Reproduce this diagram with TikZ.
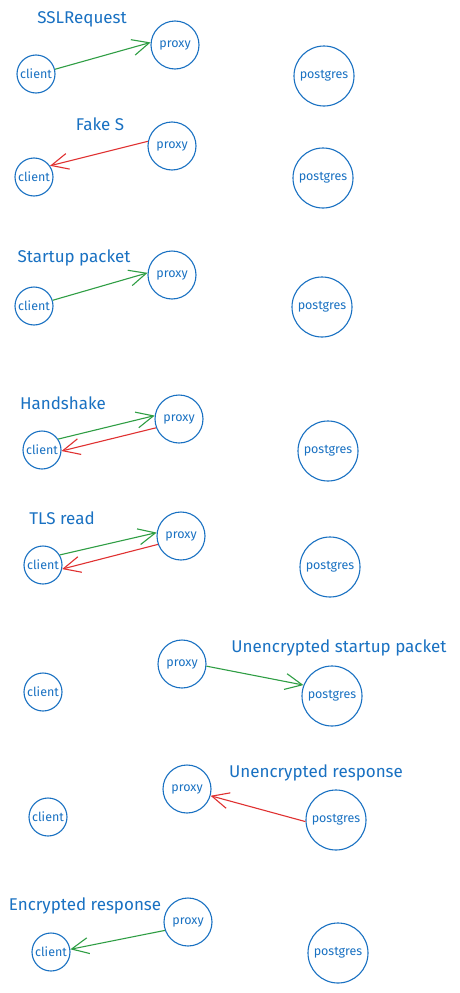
\documentclass[tikz,border=0pt]{standalone}
\usepackage{fontspec}
\setmainfont{Fira Sans}
\usetikzlibrary{arrows.meta}
\definecolor{exblue}{HTML}{1971C2}
\definecolor{exgreen}{HTML}{2F9E44}
\definecolor{exred}{HTML}{E03131}
\tikzset{
  actor/.style={circle, draw=exblue, line width=1.1pt, text=exblue, inner sep=0pt, font=\fontsize{12.5}{14}\selectfont},
  cli/.style={actor, minimum size=38pt},
  prx/.style={actor, minimum size=48pt},
  pg/.style={actor, minimum size=60pt},
  title/.style={text=exblue, inner sep=0pt, font=\fontsize{17}{19}\selectfont},
  msg/.style={line width=1.1pt, -{Straight Barb[length=17pt,width=16pt,line width=1.1pt]}},
  ok/.style={msg, draw=exgreen},
  bad/.style={msg, draw=exred}
}
\begin{document}
\begin{tikzpicture}[x=1pt,y=-1pt]
\path[use as bounding box, fill=white] (0,0) rectangle (460,993);
% panel 1
\node[title] (t1) at (82,19) {SSLRequest};
\node[cli] (c1) at (36,74) {client};
\node[prx] (p1) at (175,45) {proxy};
\node[pg] (g1) at (324,76) {postgres};
\draw[ok] (c1.14) -- (p1.174);
% panel 2
\node[title] (t2) at (100,124) {Fake S};
\node[cli] (c2) at (34,177) {client};
\node[prx] (p2) at (172,146) {proxy};
\node[pg] (g2) at (323,178) {postgres};
\draw[bad] (p2.169) -- (c2.35);
% panel 3
\node[title] (t3) at (74,258) {Startup packet};
\node[cli] (c3) at (34,306) {client};
\node[prx] (p3) at (172,275) {proxy};
\node[pg] (g3) at (322,307) {postgres};
\draw[ok] (c3.17) -- (p3.175);
% panel 4
\node[title] (t4) at (63,403) {Handshake};
\node[cli] (c4) at (42,450) {client};
\node[prx] (p4) at (179,419) {proxy};
\node[pg] (g4) at (328,451) {postgres};
\draw[ok] (c4.34) -- (p4.172);
\draw[bad] (p4.201) -- (c4.357);
% panel 5
\node[title] (t5) at (62,518) {TLS read};
\node[cli] (c5) at (43,565) {client};
\node[prx] (p5) at (181,536) {proxy};
\node[pg] (g5) at (330,567) {postgres};
\draw[ok] (c5.31) -- (p5.172);
\draw[bad] (p5.200) -- (c5.348);
% panel 6
\node[title] (t6) at (339,648) {Unencrypted startup packet};
\node[cli] (c6) at (43,692) {client};
\node[prx] (p6) at (182,664) {proxy};
\node[pg] (g6) at (332,696) {postgres};
\draw[ok] (p6.355) -- (g6.159);
% panel 7
\node[title] (t7) at (316,773) {Unencrypted response};
\node[cli] (c7) at (48,817) {client};
\node[prx] (p7) at (187,789) {proxy};
\node[pg] (g7) at (336,820) {postgres};
\draw[bad] (g7.183) -- (p7.344);
% panel 8
\node[title] (t8) at (85,906) {Encrypted response};
\node[cli] (c8) at (51,952) {client};
\node[prx] (p8) at (188,922) {proxy};
\node[pg] (g8) at (338,953) {postgres};
\draw[ok] (p8.200) -- (c8.8);
\end{tikzpicture}
\end{document}
